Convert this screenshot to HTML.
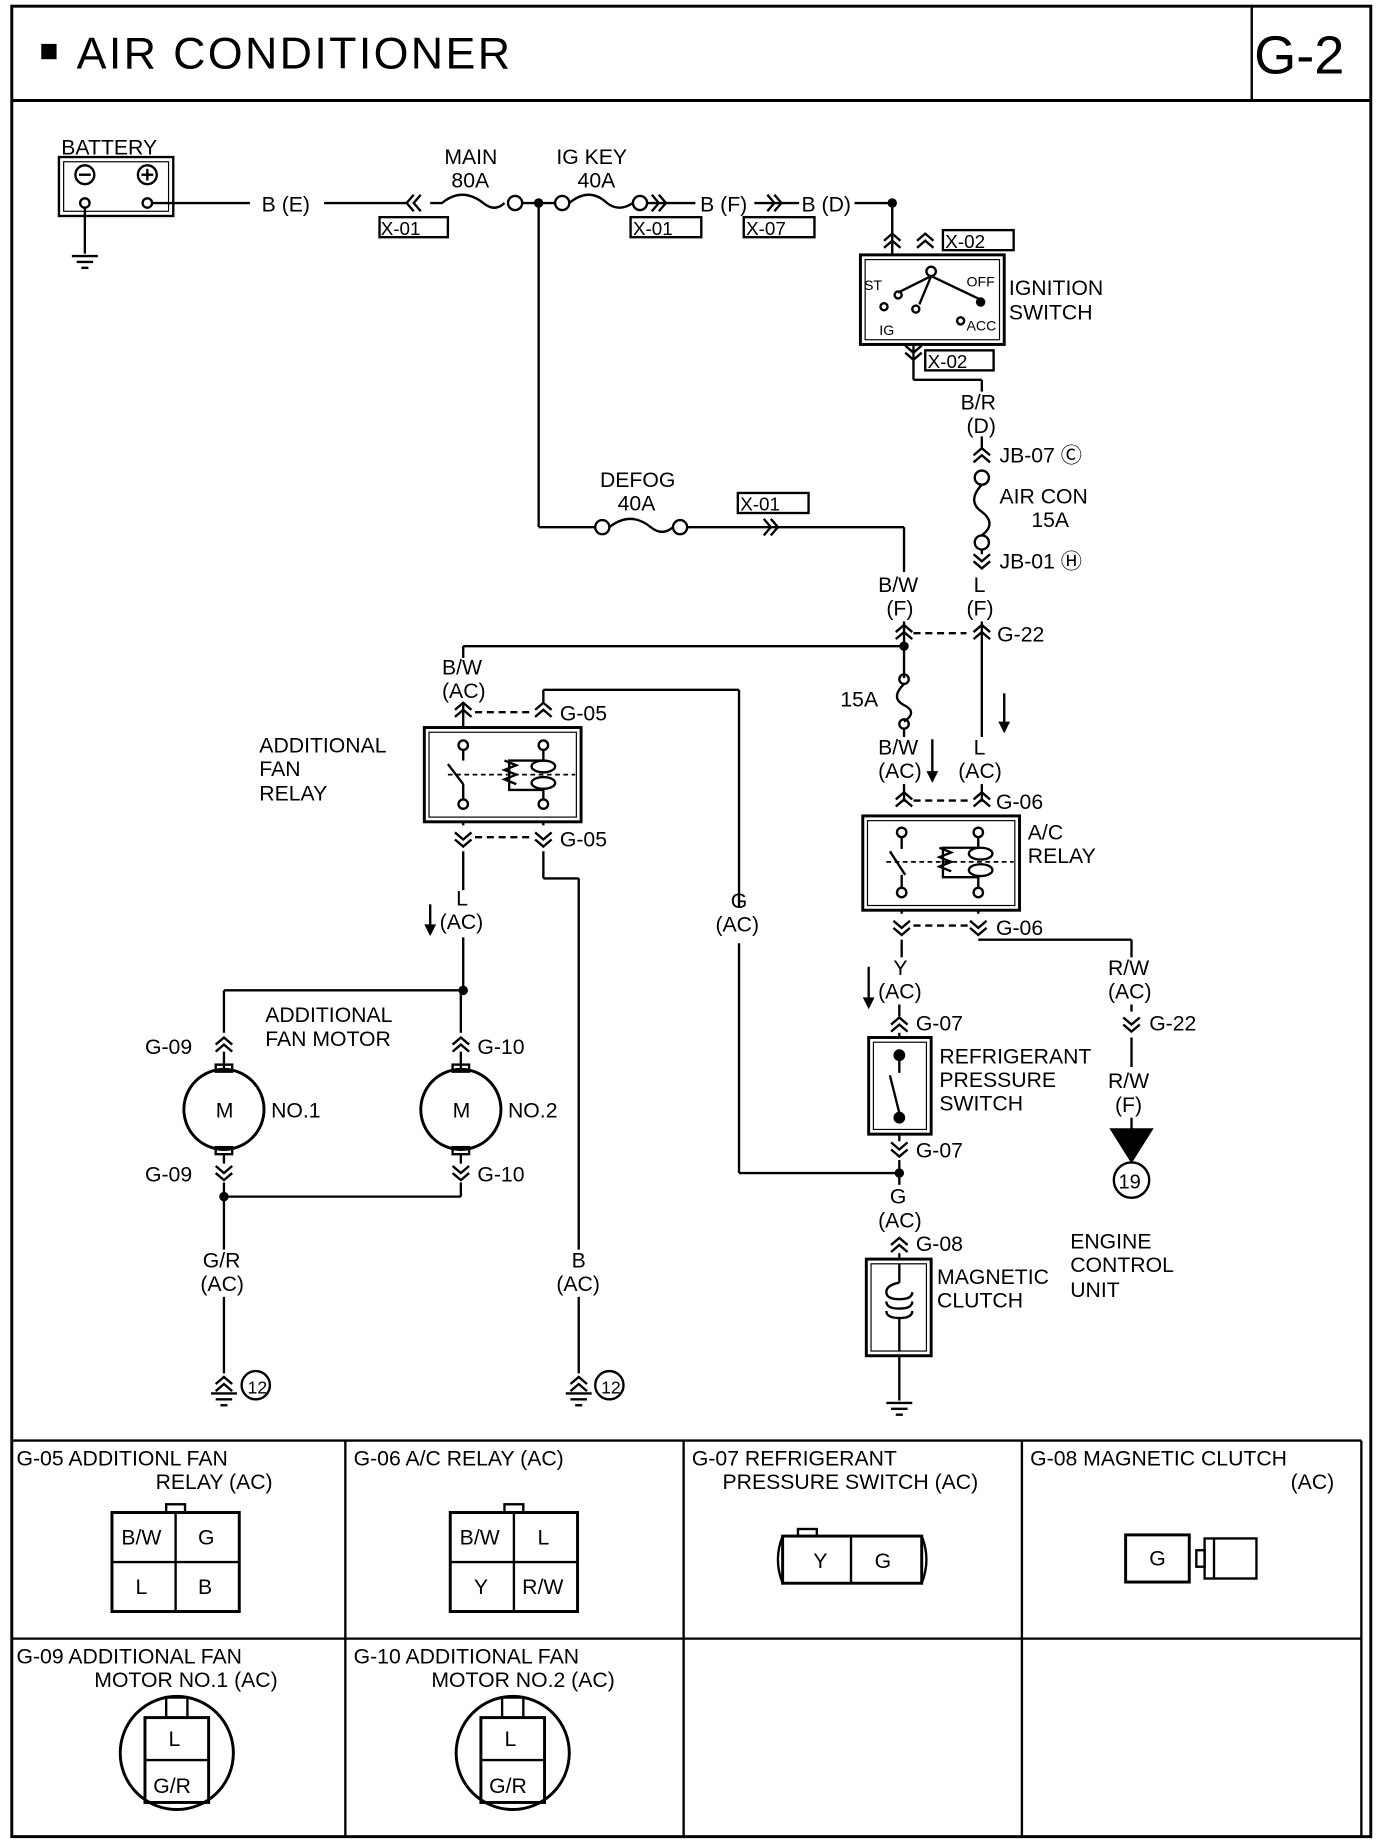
<!DOCTYPE html>
<html><head><meta charset="utf-8"><style>
html,body{margin:0;padding:0;background:#fff}
svg{display:block}
text{font-family:"Liberation Sans",sans-serif;fill:#000}
</style></head><body>
<svg width="1392" height="1844" viewBox="0 0 1181 1564" xmlns="http://www.w3.org/2000/svg">
<defs>
<g id="cu"><polyline points="-7,6 0,0 7,6" fill="none" stroke="#000" stroke-width="2"/><polyline points="-7,12 0,6 7,12" fill="none" stroke="#000" stroke-width="2"/></g>
<g id="cd"><polyline points="-7,-6 0,0 7,-6" fill="none" stroke="#000" stroke-width="2"/><polyline points="-7,-12 0,-6 7,-12" fill="none" stroke="#000" stroke-width="2"/></g>
<g id="cr"><polyline points="-6,-7 0,0 -6,7" fill="none" stroke="#000" stroke-width="2"/><polyline points="-12,-7 -6,0 -12,7" fill="none" stroke="#000" stroke-width="2"/></g>
<g id="cl"><polyline points="6,-7 0,0 6,7" fill="none" stroke="#000" stroke-width="2"/><polyline points="12,-7 6,0 12,7" fill="none" stroke="#000" stroke-width="2"/></g>
<g id="gnd"><line x1="-11" y1="0" x2="11" y2="0" stroke="#000" stroke-width="2"/><line x1="-7" y1="5" x2="7" y2="5" stroke="#000" stroke-width="2"/><line x1="-3" y1="10" x2="3" y2="10" stroke="#000" stroke-width="2"/></g>
</defs>
<g fill="none" stroke="#000" stroke-width="2">
<rect x="10" y="5" width="1153" height="1553" stroke-width="2.5"/>
<line x1="10" y1="85" x2="1163" y2="85" stroke-width="2.5"/>
<line x1="1062" y1="5" x2="1062" y2="85"/>
<line x1="10" y1="1222" x2="1155" y2="1222"/>
<line x1="10" y1="1390" x2="1155" y2="1390"/>
<line x1="1155" y1="1222" x2="1155" y2="1558"/>
<line x1="293" y1="1222" x2="293" y2="1558"/>
<line x1="580" y1="1222" x2="580" y2="1558"/>
<line x1="867" y1="1222" x2="867" y2="1558"/>
<rect x="50" y="133" width="97" height="50"/><rect x="54" y="137" width="89" height="42" stroke-width="1"/>
<circle cx="72" cy="148" r="8"/><circle cx="125" cy="148" r="8"/>
<line x1="67" y1="148" x2="77" y2="148"/><line x1="120" y1="148" x2="130" y2="148"/><line x1="125" y1="143" x2="125" y2="153"/>
<circle cx="72" cy="172" r="4"/><circle cx="125" cy="172" r="4"/>
<line x1="72" y1="176" x2="72" y2="215"/>
<line x1="129" y1="172" x2="212" y2="172"/>
<line x1="275" y1="172" x2="345" y2="172"/>
<path d="M365,172 H375 Q392,158 410,172 Q420,180 428,172"/><circle cx="437" cy="172" r="6"/>
<line x1="443" y1="172" x2="471" y2="172"/>
<circle cx="477" cy="172" r="6"/><path d="M483,172 Q500,158 515,172 Q525,180 537,172"/><circle cx="543" cy="172" r="6"/>
<line x1="549" y1="172" x2="590" y2="172"/>
<line x1="640" y1="172" x2="678" y2="172"/>
<line x1="725" y1="172" x2="757" y2="172"/>
<rect x="322" y="184" width="58" height="17"/><rect x="535" y="184" width="60" height="17"/><rect x="631" y="184" width="60" height="17"/>
<line x1="457" y1="172" x2="457" y2="447"/>
<line x1="457" y1="447" x2="505" y2="447"/>
<circle cx="511" cy="447" r="6"/><path d="M517,447 Q535,433 552,447 Q562,455 571,447"/><circle cx="577" cy="447" r="6"/>
<line x1="583" y1="447" x2="767" y2="447"/>
<rect x="626" y="418" width="60" height="17"/>
<line x1="767" y1="447" x2="767" y2="485"/>
<line x1="757" y1="172" x2="757" y2="216"/>
<rect x="730" y="216" width="122" height="76" stroke-width="2.5"/><rect x="734" y="220" width="114" height="68" stroke-width="1"/>
<rect x="800" y="195" width="60" height="17"/><rect x="785" y="297" width="58" height="17"/>
<circle cx="790" cy="230" r="4"/><line x1="790" y1="234" x2="762" y2="248"/><line x1="790" y1="234" x2="780" y2="258"/><line x1="790" y1="234" x2="832" y2="254"/>
<circle cx="762" cy="250" r="3"/><circle cx="750" cy="260" r="3"/><circle cx="777" cy="262" r="3"/><circle cx="815" cy="272" r="3"/>
<line x1="775" y1="292" x2="775" y2="322"/><line x1="775" y1="322" x2="833" y2="322"/><line x1="833" y1="322" x2="833" y2="332"/>
<line x1="833" y1="370" x2="833" y2="380"/>
<circle cx="833" cy="405" r="6"/><path d="M833,411 Q820,425 833,434 Q846,444 833,454"/><circle cx="833" cy="460" r="6"/>
<line x1="833" y1="466" x2="833" y2="470"/>
<line x1="833" y1="527" x2="833" y2="625"/>
<line x1="767" y1="527" x2="767" y2="575"/>
<line x1="767" y1="548" x2="393" y2="548"/><line x1="393" y1="548" x2="393" y2="558"/>
<line x1="775" y1="537" x2="820" y2="537" stroke-dasharray="6,4"/>
<circle cx="767" cy="576" r="4"/><path d="M767,580 Q755,592 767,598 Q779,604 767,612"/><circle cx="767" cy="614" r="4"/>
<line x1="767" y1="618" x2="767" y2="625"/>
<line x1="393" y1="596" x2="393" y2="617"/>
<line x1="461" y1="596" x2="461" y2="585"/><line x1="461" y1="585" x2="627" y2="585"/><line x1="627" y1="585" x2="627" y2="770"/><line x1="627" y1="800" x2="627" y2="995"/><line x1="627" y1="995" x2="763" y2="995"/>
<line x1="403" y1="604" x2="452" y2="604" stroke-dasharray="6,4"/>
<line x1="403" y1="710" x2="452" y2="710" stroke-dasharray="6,4"/>
<rect x="360" y="617" width="133" height="80" stroke-width="2.5"/><rect x="364" y="621" width="125" height="72" stroke-width="1"/>
<circle cx="393" cy="632" r="4"/><circle cx="393" cy="682" r="4"/><line x1="393" y1="636" x2="393" y2="645"/><line x1="393" y1="678" x2="393" y2="665"/><line x1="380" y1="648" x2="393" y2="665"/>
<circle cx="461" cy="632" r="4"/><circle cx="461" cy="682" r="4"/>
<line x1="380" y1="657" x2="488" y2="657" stroke-dasharray="4,3" stroke-width="1.5"/>
<path d="M461,636 V645 H432 V670 H461 V678"/>
<path d="M428,645 l10,4 l-10,4 l10,4 l-10,4 l10,4"/>
<ellipse cx="461" cy="650" rx="10" ry="5"/><ellipse cx="461" cy="664" rx="10" ry="5"/>
<line x1="393" y1="697" x2="393" y2="700"/><line x1="461" y1="697" x2="461" y2="700"/>
<line x1="393" y1="722" x2="393" y2="755"/>
<line x1="393" y1="795" x2="393" y2="840"/>
<line x1="461" y1="722" x2="461" y2="745"/><line x1="461" y1="745" x2="491" y2="745"/><line x1="491" y1="745" x2="491" y2="1060"/>
<line x1="491" y1="1100" x2="491" y2="1165"/>
<line x1="393" y1="840" x2="190" y2="840"/><line x1="190" y1="840" x2="190" y2="876"/><line x1="391" y1="840" x2="391" y2="876"/>
<line x1="190" y1="892" x2="190" y2="906"/><line x1="391" y1="892" x2="391" y2="906"/>
<circle cx="190" cy="941" r="34" stroke-width="2.5"/><circle cx="391" cy="941" r="34" stroke-width="2.5"/>
<rect x="183" y="903" width="14" height="6"/><rect x="183" y="973" width="14" height="6"/>
<rect x="384" y="903" width="14" height="6"/><rect x="384" y="973" width="14" height="6"/>
<line x1="190" y1="979" x2="190" y2="987"/><line x1="391" y1="979" x2="391" y2="987"/>
<line x1="190" y1="1003" x2="190" y2="1060"/><line x1="391" y1="1003" x2="391" y2="1015"/><line x1="391" y1="1015" x2="190" y2="1015"/>
<line x1="190" y1="1100" x2="190" y2="1165"/>
<line x1="767" y1="665" x2="767" y2="680"/>
<line x1="833" y1="665" x2="833" y2="680"/>
<line x1="775" y1="679" x2="822" y2="679" stroke-dasharray="6,4"/>
<line x1="775" y1="785" x2="822" y2="785" stroke-dasharray="6,4"/>
<rect x="732" y="692" width="133" height="80" stroke-width="2.5"/><rect x="736" y="696" width="125" height="72" stroke-width="1"/>
<circle cx="765" cy="706" r="4"/><circle cx="765" cy="757" r="4"/><line x1="765" y1="710" x2="765" y2="720"/><line x1="765" y1="753" x2="765" y2="742"/><line x1="755" y1="722" x2="768" y2="742"/>
<circle cx="830" cy="706" r="4"/><circle cx="830" cy="757" r="4"/>
<line x1="752" y1="731" x2="860" y2="731" stroke-dasharray="4,3" stroke-width="1.5"/>
<path d="M830,710 V719 H800 V744 H830 V753"/>
<path d="M797,719 l10,4 l-10,4 l10,4 l-10,4 l10,4"/>
<ellipse cx="832" cy="724" rx="10" ry="5"/><ellipse cx="832" cy="738" rx="10" ry="5"/>
<line x1="765" y1="772" x2="765" y2="775"/><line x1="830" y1="772" x2="830" y2="775"/>
<line x1="765" y1="797" x2="765" y2="812"/>
<line x1="830" y1="797" x2="960" y2="797"/><line x1="960" y1="797" x2="960" y2="812"/>
<line x1="960" y1="852" x2="960" y2="858"/><line x1="960" y1="880" x2="960" y2="905"/>
<line x1="960" y1="948" x2="960" y2="958"/>
<polygon points="943,958 977,958 960,985" fill="#000"/>
<circle cx="960" cy="1001" r="15"/>
<line x1="763" y1="852" x2="763" y2="862"/><line x1="763" y1="876" x2="763" y2="880"/>
<rect x="737" y="880" width="53" height="82" stroke-width="2.5"/><rect x="741" y="884" width="45" height="74" stroke-width="1"/>
<circle cx="763" cy="895" r="4" fill="#000"/><circle cx="763" cy="948" r="4" fill="#000"/>
<line x1="763" y1="899" x2="763" y2="910"/><line x1="755" y1="912" x2="763" y2="944"/>
<line x1="763" y1="962" x2="763" y2="968"/>
<line x1="763" y1="984" x2="763" y2="1005"/>
<circle cx="763" cy="995" r="3" fill="#000"/>
<line x1="763" y1="1063" x2="763" y2="1068"/>
<rect x="735" y="1068" width="55" height="82" stroke-width="2.5"/><rect x="739" y="1072" width="47" height="74" stroke-width="1"/>
<path d="M763,1072 V1088 M763,1088 Q752,1090 752,1096 Q752,1102 763,1102 Q774,1102 774,1096 M752,1104 Q752,1110 763,1110 Q774,1110 774,1104 M752,1112 Q752,1118 763,1118 Q774,1118 774,1112 M763,1118 V1146"/>
<line x1="763" y1="1150" x2="763" y2="1188"/>
<circle cx="217" cy="1175" r="12"/><circle cx="517" cy="1175" r="12"/>
<rect x="95" y="1283" width="108" height="84" stroke-width="2.5"/><line x1="149" y1="1283" x2="149" y2="1367"/><line x1="95" y1="1325" x2="203" y2="1325"/><rect x="141" y="1276" width="16" height="7"/>
<rect x="382" y="1283" width="108" height="84" stroke-width="2.5"/><line x1="436" y1="1283" x2="436" y2="1367"/><line x1="382" y1="1325" x2="490" y2="1325"/><rect x="428" y="1276" width="16" height="7"/>
<rect x="664" y="1303" width="118" height="40" stroke-width="2.5"/><line x1="722" y1="1303" x2="722" y2="1343"/><rect x="677" y="1297" width="16" height="6"/><path d="M664,1303 q-8,20 0,40 M782,1303 q8,20 0,40"/>
<rect x="955" y="1302" width="54" height="40" stroke-width="2.5"/><rect x="1022" y="1305" width="44" height="34"/><line x1="1030" y1="1305" x2="1030" y2="1339"/><rect x="1015" y="1315" width="7" height="14"/>
<circle cx="150" cy="1487" r="48" stroke-width="2.5"/><rect x="123" y="1457" width="54" height="72" stroke-width="2.5"/><line x1="123" y1="1493" x2="177" y2="1493"/><rect x="141" y="1440" width="18" height="17"/>
<circle cx="435" cy="1487" r="48" stroke-width="2.5"/><rect x="408" y="1457" width="54" height="72" stroke-width="2.5"/><line x1="408" y1="1493" x2="462" y2="1493"/><rect x="426" y="1440" width="18" height="17"/>
</g>
<use href="#cl" x="345" y="172"/><use href="#cr" x="565" y="172"/><use href="#cr" x="663" y="172"/><use href="#cr" x="660" y="447"/>
<use href="#cu" x="757" y="198"/><use href="#cu" x="785" y="198"/><use href="#cd" x="775" y="305"/>
<use href="#cu" x="833" y="380"/><use href="#cd" x="833" y="482"/>
<use href="#cu" x="767" y="530"/><use href="#cu" x="833" y="530"/>
<use href="#cu" x="393" y="596"/><use href="#cu" x="461" y="596"/><use href="#cd" x="393" y="718"/><use href="#cd" x="461" y="718"/>
<use href="#cu" x="767" y="672"/><use href="#cu" x="833" y="672"/><use href="#cd" x="765" y="793"/><use href="#cd" x="830" y="793"/>
<use href="#cd" x="960" y="875"/><use href="#cu" x="763" y="863"/><use href="#cd" x="763" y="981"/><use href="#cu" x="763" y="1050"/>
<use href="#cu" x="190" y="880"/><use href="#cu" x="391" y="880"/><use href="#cd" x="190" y="1001"/><use href="#cd" x="391" y="1001"/>
<use href="#cu" x="190" y="1168"/><use href="#cu" x="491" y="1168"/>
<use href="#gnd" x="72" y="217"/><use href="#gnd" x="190" y="1182"/><use href="#gnd" x="491" y="1182"/><use href="#gnd" x="763" y="1190"/>
<circle cx="393" cy="840" r="4"/><circle cx="190" cy="1015" r="4"/><circle cx="457" cy="172" r="4"/><circle cx="757" cy="172" r="4"/><circle cx="767" cy="548" r="4"/><circle cx="832" cy="256" r="4"/>
<g stroke="#000" stroke-width="2"><line x1="852" y1="588" x2="852" y2="618"/><line x1="791" y1="627" x2="791" y2="660"/><line x1="365" y1="767" x2="365" y2="790"/><line x1="737" y1="820" x2="737" y2="852"/></g>
<g fill="#000"><polygon points="847,612 857,612 852,622"/><polygon points="786,654 796,654 791,664"/><polygon points="360,784 370,784 365,794"/><polygon points="732,846 742,846 737,856"/></g>
<rect x="35" y="37" width="13" height="13" fill="#000"/>
<text x="65" y="58" font-size="38" letter-spacing="2">AIR CONDITIONER</text>
<text x="1064" y="62" font-size="46">G-2</text>
<g font-size="18">
<text x="52" y="131">BATTERY</text>
<text x="222" y="179">B (E)</text>
<text x="377" y="139">MAIN</text><text x="383" y="159">80A</text>
<text x="472" y="139">IG KEY</text><text x="490" y="159">40A</text>
<text x="594" y="179">B (F)</text><text x="680" y="179">B (D)</text>
<text x="323" y="199" font-size="16">X-01</text><text x="537" y="199" font-size="16">X-01</text><text x="633" y="199" font-size="16">X-07</text>
<text x="802" y="210" font-size="16">X-02</text><text x="787" y="312" font-size="16">X-02</text>
<text x="628" y="433" font-size="16">X-01</text>
<text x="733" y="246" font-size="12">ST</text><text x="820" y="243" font-size="12">OFF</text><text x="746" y="284" font-size="12">IG</text><text x="820" y="280" font-size="12">ACC</text>
<text x="856" y="250">IGNITION</text><text x="856" y="271">SWITCH</text>
<text x="815" y="347">B/R</text><text x="820" y="367">(D)</text>
<text x="848" y="392">JB-07 Ⓒ</text>
<text x="848" y="427">AIR CON</text><text x="875" y="447">15A</text>
<text x="848" y="482">JB-01 Ⓗ</text>
<text x="509" y="413">DEFOG</text><text x="524" y="433">40A</text>
<text x="745" y="502">B/W</text><text x="752" y="522">(F)</text>
<text x="826" y="502">L</text><text x="820" y="522">(F)</text>
<text x="846" y="544">G-22</text>
<text x="375" y="572">B/W</text><text x="375" y="592">(AC)</text>
<text x="475" y="611">G-05</text><text x="475" y="718">G-05</text>
<text x="220" y="638">ADDITIONAL</text><text x="220" y="658">FAN</text><text x="220" y="679">RELAY</text>
<text x="713" y="599">15A</text>
<text x="745" y="640">B/W</text><text x="745" y="660">(AC)</text>
<text x="826" y="640">L</text><text x="813" y="660">(AC)</text>
<text x="845" y="686">G-06</text><text x="845" y="793">G-06</text>
<text x="872" y="712">A/C</text><text x="872" y="732">RELAY</text>
<text x="387" y="768">L</text><text x="373" y="788">(AC)</text>
<text x="620" y="770">G</text><text x="607" y="790">(AC)</text>
<text x="758" y="827">Y</text><text x="745" y="847">(AC)</text>
<text x="940" y="827">R/W</text><text x="940" y="847">(AC)</text>
<text x="975" y="874">G-22</text>
<text x="940" y="923">R/W</text><text x="946" y="943">(F)</text>
<text x="949" y="1008" font-size="17">19</text>
<text x="225" y="867">ADDITIONAL</text><text x="225" y="887">FAN MOTOR</text>
<text x="123" y="894">G-09</text><text x="405" y="894">G-10</text>
<text x="183" y="948">M</text><text x="384" y="948">M</text>
<text x="230" y="948">NO.1</text><text x="431" y="948">NO.2</text>
<text x="123" y="1002">G-09</text><text x="405" y="1002">G-10</text>
<text x="777" y="874">G-07</text><text x="777" y="982">G-07</text>
<text x="797" y="902">REFRIGERANT</text><text x="797" y="922">PRESSURE</text><text x="797" y="942">SWITCH</text>
<text x="755" y="1021">G</text><text x="745" y="1041">(AC)</text>
<text x="777" y="1061">G-08</text>
<text x="795" y="1089">MAGNETIC</text><text x="795" y="1109">CLUTCH</text>
<text x="908" y="1059">ENGINE</text><text x="908" y="1079">CONTROL</text><text x="908" y="1100">UNIT</text>
<text x="172" y="1075">G/R</text><text x="170" y="1095">(AC)</text>
<text x="485" y="1075">B</text><text x="472" y="1095">(AC)</text>
<text x="210" y="1182" font-size="15">12</text><text x="510" y="1182" font-size="15">12</text>
<text x="14" y="1243">G-05 ADDITIONL FAN</text><text x="132" y="1263">RELAY (AC)</text>
<text x="300" y="1243">G-06 A/C RELAY (AC)</text>
<text x="587" y="1243">G-07 REFRIGERANT</text><text x="613" y="1263">PRESSURE SWITCH (AC)</text>
<text x="874" y="1243">G-08 MAGNETIC CLUTCH</text><text x="1095" y="1263">(AC)</text>
<text x="103" y="1310">B/W</text><text x="168" y="1310">G</text><text x="115" y="1352">L</text><text x="168" y="1352">B</text>
<text x="390" y="1310">B/W</text><text x="456" y="1310">L</text><text x="402" y="1352">Y</text><text x="443" y="1352">R/W</text>
<text x="690" y="1330">Y</text><text x="742" y="1330">G</text>
<text x="975" y="1328">G</text>
<text x="14" y="1411">G-09 ADDITIONAL FAN</text><text x="80" y="1431">MOTOR NO.1 (AC)</text>
<text x="300" y="1411">G-10 ADDITIONAL FAN</text><text x="366" y="1431">MOTOR NO.2 (AC)</text>
<text x="143" y="1481">L</text><text x="130" y="1521">G/R</text>
<text x="428" y="1481">L</text><text x="415" y="1521">G/R</text>
</g>
</svg>
</body></html>
